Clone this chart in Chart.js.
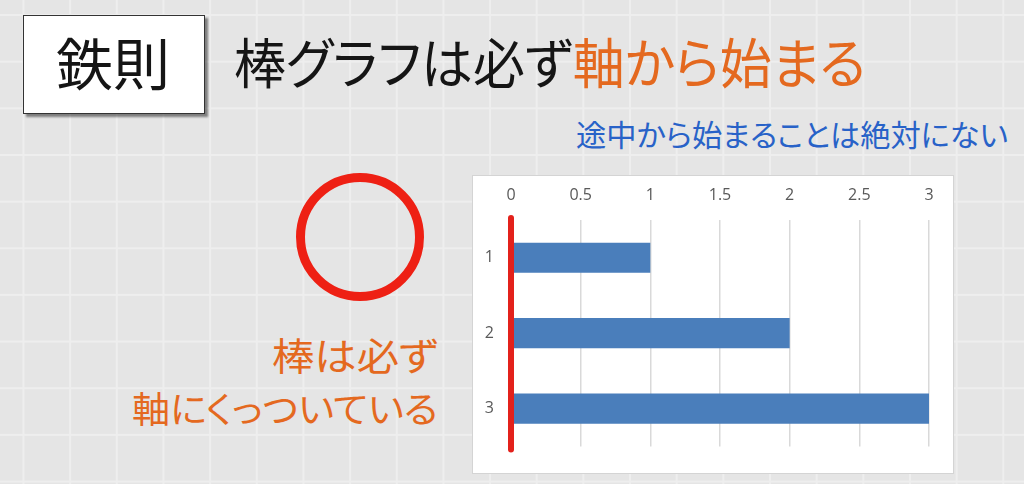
<!DOCTYPE html>
<html lang="ja">
<head>
<meta charset="utf-8">
<script src="https://cdn.jsdelivr.net/npm/chart.js@4.4.0/dist/chart.umd.min.js"></script>
<style>
  html, body { margin:0; padding:0; }
  body {
    width:1024px; height:484px; overflow:hidden; position:relative;
    background-color:#e5e5e5;
    background-image:
      linear-gradient(to right, #eeeeee 2px, transparent 2px),
      linear-gradient(to bottom, #eeeeee 2px, transparent 2px);
    background-size:46.67px 46.67px;
    background-position:22.5px 14px;
    font-family:"Noto Sans CJK JP","Noto Sans",sans-serif;
  }
  .t { position:absolute; white-space:nowrap; line-height:1; font-feature-settings:"palt"; transform-origin:0 0; }
  #badge {
    position:absolute; left:23px; top:15px; width:180px; height:97px;
    background:#fff; border:1.5px solid #333;
    box-shadow:3px 3px 2px rgba(0,0,0,0.45);
  }
  #ring {
    position:absolute; left:296px; top:173px; width:128px; height:128px;
    box-sizing:border-box; border:9px solid #ee2014; border-radius:50%;
  }
  #chartBox {
    position:absolute; left:472px; top:175px; width:480px; height:297px;
    background:#fff; border:1px solid #d4d4d4;
  }
  #chartBox canvas { position:absolute; left:0; top:0; }
</style>
</head>
<body>
<div id="badge"></div>
<div class="t" id="tBadge" style="font-size:56px;color:#151515;">鉄則</div>
<div class="t" id="tTitle" style="font-size:54px;color:#151515;">棒グラフは必ず<span style="color:#e4691f;">軸から始まる</span></div>
<div class="t" id="tSub" style="font-size:30px;color:#2862c8;">途中から始まることは絶対にない</div>
<div id="ring"></div>
<div class="t" id="tNote1" style="font-size:38px;color:#e4691f;">棒は必ず</div>
<div class="t" id="tNote2" style="font-size:36px;color:#e4691f;">軸にくっついている</div>
<div id="chartBox"><canvas id="c" width="480" height="297"></canvas></div>

<script>
// ---- data ----
const categories = ['1', '2', '3'];
const barValues = [1, 2, 3];
const valueTicks = [0, 0.5, 1, 1.5, 2, 2.5, 3];

// ---- slide text placement ----
function place(id, opt) {
  const el = document.getElementById(id);
  const F = parseFloat(el.style.fontSize);
  const natural = el.getBoundingClientRect().width;
  const s = opt.width / natural;
  let left;
  if (opt.left !== undefined) left = opt.left;
  else if (opt.right !== undefined) left = opt.right - opt.width;
  else left = opt.cx - opt.width / 2;
  el.style.left = left + 'px';
  el.style.top = (opt.cy - 0.556 * F) + 'px';
  el.style.transform = 'scaleX(' + s + ')';
}
place('tBadge', { cx: 113, cy: 64, width: 114 });
place('tTitle', { left: 234, cy: 64, width: 632 });
place('tSub', { left: 576, cy: 135, width: 432 });
place('tNote1', { right: 438, cy: 356, width: 166 });
place('tNote2', { right: 438, cy: 409, width: 306 });

// ---- chart ----
const zeroLine = {
  id: 'zeroLine',
  afterDatasetsDraw(chart) {
    const { ctx, chartArea, scales } = chart;
    const px = scales.x.getPixelForValue(0);
    ctx.save();
    ctx.strokeStyle = '#e3211b';
    ctx.lineWidth = 6;
    ctx.lineCap = 'round';
    ctx.beginPath();
    ctx.moveTo(px, chartArea.top - 2);
    ctx.lineTo(px, chartArea.bottom + 3);
    ctx.stroke();
    ctx.restore();
  }
};

new Chart(document.getElementById('c'), {
  type: 'bar',
  data: {
    labels: categories,
    datasets: [{
      data: barValues,
      backgroundColor: '#4a7ebb',
      borderWidth: 0,
      barPercentage: 0.5,
      categoryPercentage: 0.8
    }]
  },
  options: {
    indexAxis: 'y',
    responsive: false,
    animation: false,
    devicePixelRatio: 1,
    layout: { padding: { left: 0, top: 0, right: 24, bottom: 21 } },
    plugins: { legend: { display: false }, tooltip: { enabled: false } },
    scales: {
      x: {
        type: 'linear',
        position: 'top',
        min: 0, max: 3,
        afterBuildTicks(scale) { scale.ticks = valueTicks.map(v => ({ value: v })); },
        afterFit(scale) { scale.height = 44; },
        grid: { color: '#d9d9d9', lineWidth: 1.5, drawTicks: false },
        border: { display: false },
        ticks: {
          padding: 15,
          color: '#595959',
          font: { family: 'Open Sans', size: 16 },
          callback: (v) => String(v)
        }
      },
      y: {
        type: 'category',
        afterFit(scale) { scale.width = 38; },
        grid: { display: false, drawTicks: false },
        border: { display: false },
        ticks: {
          padding: 17,
          color: '#595959',
          font: { family: 'Open Sans', size: 16 }
        }
      }
    }
  },
  plugins: [zeroLine]
});
</script>
</body>
</html>
